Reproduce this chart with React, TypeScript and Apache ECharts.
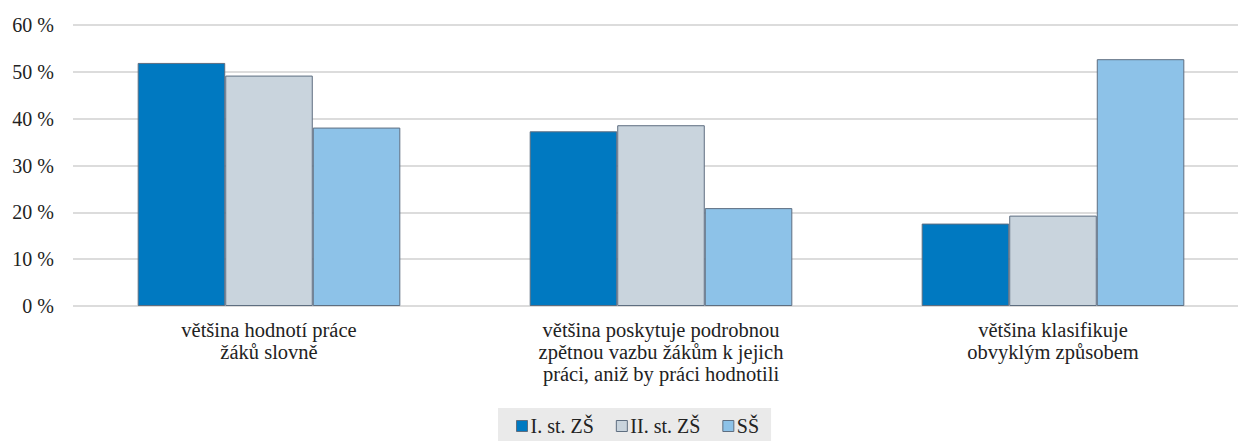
import React, { useEffect, useRef } from "react";
import * as echarts from "echarts";

const categories = [
  "většina hodnotí práce\nžáků slovně",
  "většina poskytuje podrobnou\nzpětnou vazbu žákům k jejich\npráci, aniž by práci hodnotili",
  "většina klasifikuje\nobvyklým způsobem",
];
const seriesNames = ["I. st. ZŠ", "II. st. ZŠ", "SŠ"];
const valuesI = [51.9, 37.3, 17.6];
const valuesII = [49.2, 38.6, 19.3];
const valuesSS = [38.1, 20.9, 52.7];
const colors = ["#0079C1", "#C9D4DD", "#8DC2E8"];

export default function App() {
  const ref = useRef<HTMLDivElement>(null);
  useEffect(() => {
    if (!ref.current) return;
    const chart = echarts.init(ref.current, undefined, { renderer: "svg" });
    const font = "Liberation Serif";
    const data = [valuesI, valuesII, valuesSS];
    chart.setOption({
      animation: false,
      textStyle: { fontFamily: font },
      grid: { left: 73, right: 11, top: 25, bottom: 135, containLabel: false },
      legend: {
        top: 408,
        left: 498,
        backgroundColor: "#EAEAEA",
        padding: [8, 12, 12, 18],
        itemWidth: 11,
        itemHeight: 11,
        itemGap: 22,
        textStyle: { fontFamily: font, fontSize: 20, color: "#222", padding: [0, 0, 0, -2] },
        data: seriesNames.map((n, i) => ({
          name: n,
          icon: "rect",
          itemStyle: { color: colors[i], borderColor: "#5E6E80", borderWidth: 1 },
        })),
      },
      xAxis: {
        type: "category",
        data: categories,
        axisLine: { show: false },
        axisTick: { show: false },
        axisLabel: {
          fontFamily: font,
          fontSize: 20.5,
          color: "#222",
          lineHeight: 22,
          margin: 13,
          interval: 0,
        },
      },
      yAxis: {
        type: "value",
        min: 0,
        max: 60,
        interval: 10,
        axisLine: { show: false },
        axisTick: { show: false },
        axisLabel: {
          fontFamily: font,
          fontSize: 20,
          color: "#222",
          margin: 19,
          formatter: (v: number) => v + " %",
        },
        splitLine: { lineStyle: { color: "#D0D0D0", width: 1.5 } },
      },
      series: seriesNames.map((name, i) => ({
        name,
        type: "bar",
        data: data[i],
        barGap: "0%",
        barCategoryGap: "33%",
        itemStyle: {
          color: colors[i],
          borderColor: "#5E6E80",
          borderWidth: 1,
        },
      })),
    });
    return () => chart.dispose();
  }, []);
  return (
    <div style={{ position: "absolute", left: 0, top: 0, width: 1238, height: 441, overflow: "hidden" }}>
      <div ref={ref} style={{ width: 1260, height: 441 }} />
    </div>
  );
}
